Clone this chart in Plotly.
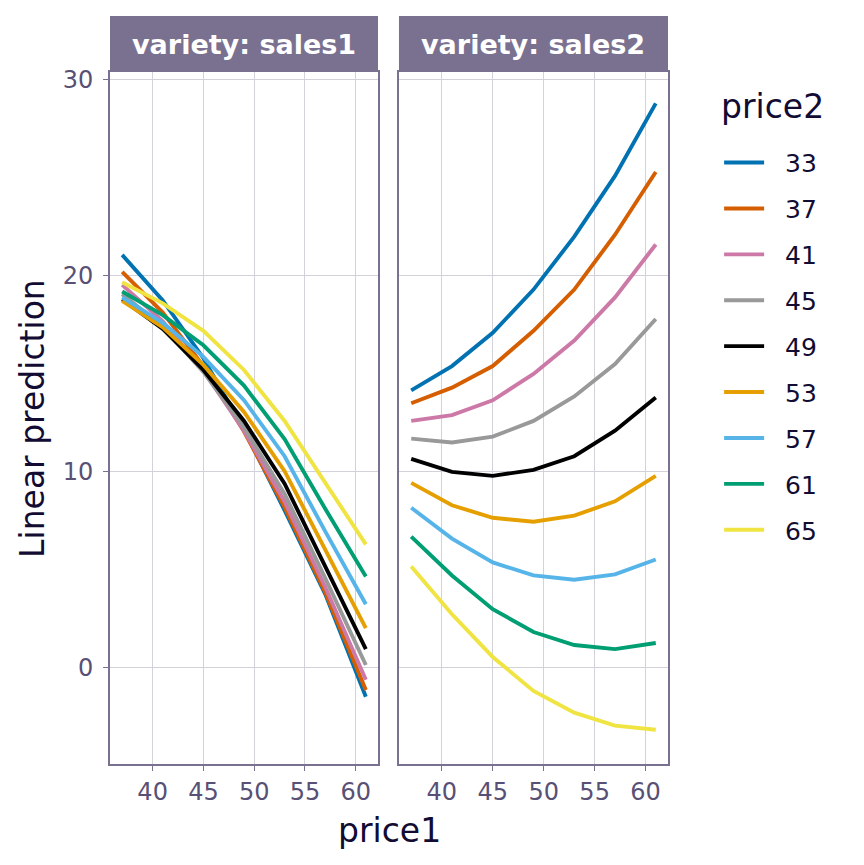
import plotly.graph_objects as go

# price1 grid used for predictions
price1 = [37, 41, 45, 49, 53, 57, 61]
price2_levels = ["33", "37", "41", "45", "49", "53", "57", "61", "65"]

# linear predictions, variety = sales1 (one list per price2 level)
sales1 = {
    "33": [21.07, 18.75, 15.8, 12.16, 8.04, 3.77, -1.47],
    "37": [20.2, 18.13, 15.4, 12.06, 8.2, 3.86, -1.12],
    "41": [19.54, 17.68, 15.17, 12.1, 8.48, 4.13, -0.6],
    "45": [19.07, 17.4, 15.1, 12.28, 8.88, 4.58, 0.15],
    "49": [18.8, 17.3, 15.2, 12.6, 9.4, 5.2, 0.96],
    "53": [18.73, 17.37, 15.46, 13.06, 10.04, 6.0, 2.03],
    "57": [18.9, 17.6, 15.87, 13.66, 10.8, 6.97, 3.25],
    "61": [19.2, 18.0, 16.46, 14.4, 11.68, 8.12, 4.67],
    "65": [19.68, 18.6, 17.2, 15.2, 12.6, 9.44, 6.3],
}

# linear predictions, variety = sales2
sales2 = {
    "33": [14.16, 15.4, 17.1, 19.3, 22.0, 25.1, 28.8],
    "37": [13.5, 14.3, 15.4, 17.2, 19.3, 22.1, 25.3],
    "41": [12.6, 12.9, 13.65, 15.0, 16.7, 18.9, 21.6],
    "45": [11.7, 11.5, 11.8, 12.6, 13.85, 15.5, 17.8],
    "49": [10.66, 10.0, 9.8, 10.1, 10.8, 12.1, 13.8],
    "53": [9.44, 8.3, 7.66, 7.46, 7.77, 8.5, 9.8],
    "57": [8.17, 6.6, 5.38, 4.72, 4.5, 4.77, 5.53],
    "61": [6.7, 4.72, 3.0, 1.83, 1.17, 0.96, 1.27],
    "65": [5.18, 2.74, 0.56, -1.17, -2.28, -2.94, -3.15],
}

colors = ["#0072B2", "#D55E00", "#CC79A7", "#999999", "#000000",
          "#E69F00", "#56B4E9", "#009E73", "#F0E442"]

font = "DejaVu Sans"
dark = "#120C33"
tickc = "#585075"
linec = "#7A7190"
gridc = "#D3D1DA"

fig = go.Figure()
for lvl, col in zip(price2_levels, colors):
    # two non-breaking spaces push the label away from the key, like ggplot
    fig.add_trace(go.Scatter(x=price1, y=sales1[lvl], mode="lines",
                             line=dict(color=col, width=3.9), name="\u00a0\u00a0" + lvl,
                             legendgroup=lvl, xaxis="x", yaxis="y"))
    fig.add_trace(go.Scatter(x=price1, y=sales2[lvl], mode="lines",
                             line=dict(color=col, width=3.9), name=lvl,
                             legendgroup=lvl, showlegend=False,
                             xaxis="x2", yaxis="y2"))

d1 = [0, 0.4803]
d2 = [0.5179, 1]
ax = dict(range=[35.8, 62.2], tickvals=[40, 45, 50, 55, 60],
          showgrid=True, gridcolor=gridc, gridwidth=1.4, zeroline=False,
          showline=True, linecolor=linec, linewidth=1.6, mirror=True,
          ticks="outside", ticklen=5, tickcolor=linec, tickwidth=1.3,
          tickfont=dict(family=font, size=24, color=tickc))
ay = dict(range=[-4.9, 30.4], tickvals=[0, 10, 20, 30],
          showgrid=True, gridcolor=gridc, gridwidth=1.4, zeroline=False,
          showline=True, linecolor=linec, linewidth=1.6, mirror=True,
          ticks="outside", ticklen=5, tickcolor=linec, tickwidth=1.3,
          ticklabelstandoff=5,
          tickfont=dict(family=font, size=24, color=tickc))

# page has an 8px body margin, so the figure is 8px smaller than the window
fig.update_layout(
    width=856, height=857,
    margin=dict(l=102, r=196, t=64, b=101),
    paper_bgcolor="white", plot_bgcolor="white",
    xaxis=dict(ax, domain=d1, anchor="y"),
    yaxis=dict(ay, domain=[0, 1], anchor="x"),
    xaxis2=dict(ax, domain=d2, anchor="y2"),
    yaxis2=dict(ay, domain=[0, 1], anchor="x2", showticklabels=False, ticks=""),
    legend=dict(x=1.0916, y=0.902, xanchor="left", yanchor="top",
                font=dict(family=font, size=25, color=dark),
                tracegroupgap=10.4, itemwidth=40, bgcolor="rgba(0,0,0,0)"),
    showlegend=True,
)

fig.add_annotation(x=1.092, y=1 - (107 - 72) / 692, xref="paper", yref="paper",
                   text="price2", showarrow=False, xanchor="left", yanchor="middle",
                   font=dict(family=font, size=33, color=dark))

strip_h = 56 / 692
for dom, label in [(d1, "variety: sales1"), (d2, "variety: sales2")]:
    fig.add_shape(type="rect", xref="paper", yref="paper",
                  x0=dom[0], x1=dom[1], y0=1, y1=1 + strip_h,
                  fillcolor="#7A7190", line=dict(width=0))
    fig.add_annotation(x=(dom[0] + dom[1]) / 2, y=1 + strip_h / 2, xref="paper", yref="paper",
                       text="<b>" + label + "</b>", showarrow=False,
                       xanchor="center", yanchor="middle",
                       font=dict(family=font, size=27, color="white"))

fig.add_annotation(x=0.5, y=-0.096, xref="paper", yref="paper", text="price1",
                   showarrow=False, xanchor="center", yanchor="middle",
                   font=dict(family=font, size=33, color=dark))
fig.add_annotation(x=-0.14, y=0.5, xref="paper", yref="paper", text="Linear prediction",
                   showarrow=False, textangle=-90, xanchor="center", yanchor="middle",
                   font=dict(family=font, size=33, color=dark))

fig.write_html("out.html")
